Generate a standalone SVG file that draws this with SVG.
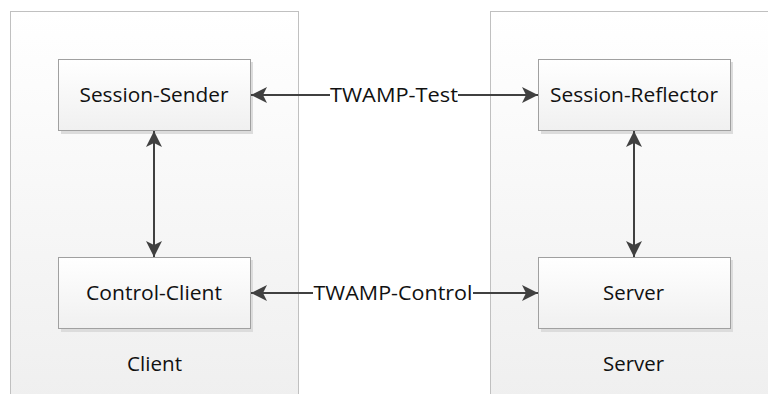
<svg xmlns="http://www.w3.org/2000/svg" width="768" height="394" viewBox="0 0 768 394">
<defs>
<linearGradient id="gc" x1="0" y1="0" x2="0" y2="1"><stop offset="0" stop-color="#ffffff"/><stop offset="1" stop-color="#efefef"/></linearGradient>
<linearGradient id="gb" x1="0" y1="0" x2="0" y2="1"><stop offset="0" stop-color="#ffffff"/><stop offset="1" stop-color="#f0f0f0"/></linearGradient>
<marker id="ah" viewBox="0 0 16 16" refX="16" refY="8" markerWidth="16" markerHeight="16" markerUnits="userSpaceOnUse" orient="auto-start-reverse"><path d="M0,0 L16,8 L0,16 L4,8 Z" fill="#404040"/></marker>
</defs>
<style>
.cont{fill:url(#gc);stroke:#c0c0c0;stroke-width:1}
.box{fill:url(#gb);stroke:#a0a0a0;stroke-width:1}
.sh{fill:#dcdcdc}
text{font-family:"Open Sans","Noto Sans",sans-serif;font-size:20px;fill:#111;text-anchor:middle}
.ln{stroke:#404040;stroke-width:2;fill:none}
</style>
<rect width="768" height="394" fill="#ffffff"/>
<g id="client">
<rect class="cont" x="10.5" y="11.5" width="288" height="390"/>
<text x="154.5" y="371" textLength="55" lengthAdjust="spacingAndGlyphs">Client</text>
</g>
<g id="server-container">
<rect class="cont" x="490.5" y="11.5" width="290" height="390"/>
<text x="633.5" y="371" textLength="61" lengthAdjust="spacingAndGlyphs">Server</text>
</g>
<g id="session-sender">
<rect class="sh" x="61" y="62" width="192" height="72"/>
<rect class="box" x="58.5" y="59.5" width="192" height="71"/>
<text x="154" y="102" textLength="149" lengthAdjust="spacingAndGlyphs">Session-Sender</text>
</g>
<g id="control-client">
<rect class="sh" x="61" y="260" width="192" height="72"/>
<rect class="box" x="58.5" y="257.5" width="192" height="71"/>
<text x="154" y="300" textLength="136" lengthAdjust="spacingAndGlyphs">Control-Client</text>
</g>
<g id="session-reflector">
<rect class="sh" x="541" y="62" width="192" height="72"/>
<rect class="box" x="538.5" y="59.5" width="192" height="71"/>
<text x="634" y="102" textLength="168" lengthAdjust="spacingAndGlyphs">Session-Reflector</text>
</g>
<g id="server">
<rect class="sh" x="541" y="260" width="192" height="72"/>
<rect class="box" x="538.5" y="257.5" width="192" height="71"/>
<text x="633.5" y="300" textLength="61" lengthAdjust="spacingAndGlyphs">Server</text>
</g>
<g id="connectors">
<path class="ln" d="M330,95 H251" marker-end="url(#ah)"/>
<path class="ln" d="M458,95 H538" marker-end="url(#ah)"/>
<text x="394" y="102" textLength="128" lengthAdjust="spacingAndGlyphs">TWAMP-Test</text>
<path class="ln" d="M313,293 H251" marker-end="url(#ah)"/>
<path class="ln" d="M473,293 H538" marker-end="url(#ah)"/>
<text x="393" y="300" textLength="159" lengthAdjust="spacingAndGlyphs">TWAMP-Control</text>
<path class="ln" d="M154,131 V257" marker-start="url(#ah)" marker-end="url(#ah)"/>
<path class="ln" d="M634,131 V257" marker-start="url(#ah)" marker-end="url(#ah)"/>
</g>
</svg>
